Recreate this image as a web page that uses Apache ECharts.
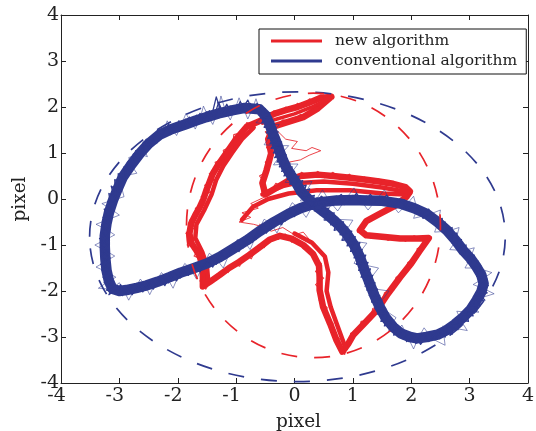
<!DOCTYPE html>
<html><head><meta charset="utf-8">
<script src="https://cdn.jsdelivr.net/npm/echarts@6/dist/echarts.min.js"></script>
<style>html,body{margin:0;padding:0;background:#fff}#c{width:536px;height:431px}</style>
</head><body><div id="c"></div>
<script>
// ---- data ----
const xTicks = [-4, -3, -2, -1, 0, 1, 2, 3, 4];
const yTicks = [-4, -3, -2, -1, 0, 1, 2, 3, 4];
const axisNames = ['pixel', 'pixel'];
const seriesNames = ['new algorithm', 'conventional algorithm'];

// conventional algorithm: centre line of the blue band (figure-eight)
const blueTrace = [
  [-0.60,1.95],[-0.85,1.98],[-1.05,1.93],[-1.30,1.86],[-1.51,1.78],[-1.70,1.70],[-1.85,1.63],
  [-2.10,1.52],[-2.31,1.40],[-2.50,1.20],[-2.65,0.99],[-2.80,0.74],[-2.94,0.48],[-3.03,0.22],
  [-3.11,-0.03],[-3.18,-0.30],[-3.22,-0.53],[-3.25,-0.80],[-3.25,-1.04],[-3.24,-1.30],[-3.22,-1.55],
  [-3.18,-1.78],[-3.12,-1.95],[-3.00,-2.00],[-2.88,-1.98],[-2.70,-1.93],[-2.54,-1.88],[-2.35,-1.80],
  [-2.14,-1.70],[-1.95,-1.60],[-1.74,-1.51],[-1.50,-1.40],[-1.28,-1.26],[-1.05,-1.08],[-0.82,-0.90],
  [-0.60,-0.70],[-0.35,-0.50],[-0.10,-0.32],[0.10,-0.20],[0.38,-0.08],[0.72,-0.03],[1.00,-0.02],
  [1.23,-0.03],[1.50,-0.04],[1.81,-0.10],[2.05,-0.20],[2.26,-0.32],[2.45,-0.50],[2.61,-0.68],
  [2.76,-0.90],[2.89,-1.12],[3.02,-1.30],[3.12,-1.48],[3.20,-1.65],[3.24,-1.84],[3.20,-2.02],
  [3.12,-2.20],[3.02,-2.40],[2.89,-2.57],[2.75,-2.72],[2.61,-2.85],[2.45,-2.95],[2.26,-3.00],
  [2.10,-3.03],[1.98,-3.00],[1.82,-2.92],[1.69,-2.78],[1.56,-2.58],[1.46,-2.35],[1.37,-2.10],
  [1.29,-1.84],[1.20,-1.55],[1.12,-1.26],[1.02,-1.00],[0.89,-0.75],[0.75,-0.55],[0.60,-0.38],
  [0.40,-0.18],[0.26,-0.03],[0.12,0.15],[0.03,0.35],[-0.06,0.52],[-0.14,0.68],[-0.20,0.85],
  [-0.25,1.02],[-0.30,1.20],[-0.37,1.42],[-0.43,1.64],[-0.50,1.82],[-0.60,1.95]
];
// noisy blue passes
const blueNoiseA = [
  [-0.60,2.05],[-0.68,1.88],[-0.76,2.08],[-0.85,1.90],[-0.93,2.12],[-1.02,1.86],[-1.10,2.02],[-1.20,1.80],
  [-1.30,2.10],[-1.38,1.78],[-1.46,1.92],[-1.55,1.70],[-1.62,1.86],[-1.72,1.62],[-1.80,1.78],[-1.90,1.55],
  [-1.98,1.70],[-2.08,1.45],[-2.16,1.62],[-2.28,1.33],[-2.34,1.50],[-2.46,1.13],[-2.54,1.30],[-2.63,0.90],
  [-2.72,1.05],[-2.78,0.66],[-2.86,0.80],[-2.92,0.40],[-3.02,0.55],[-3.00,0.15],[-3.14,0.28],[-3.06,-0.08],
  [-3.20,-0.05],[-3.12,-0.35],[-3.28,-0.40],[-3.16,-0.60],[-3.30,-0.70],[-3.18,-0.88],[-3.32,-1.00],[-3.19,-1.12],
  [-3.31,-1.25],[-3.18,-1.38],[-3.30,-1.55],[-3.15,-1.65],[-3.26,-1.82],[-3.10,-1.88],[-3.18,-2.08],[-3.00,-1.92],
  [-2.95,-2.10],[-2.86,-1.90],[-2.78,-2.08],[-2.68,-1.86],[-2.60,-2.02],[-2.50,-1.80],[-2.42,-1.96],[-2.32,-1.74],
  [-2.22,-1.88],[-2.12,-1.64],[-2.02,-1.78],[-1.92,-1.54],[-1.82,-1.66],[-1.72,-1.44],[-1.62,-1.58],[-1.50,-1.32],
  [-1.40,-1.48],[-1.28,-1.18],[-1.18,-1.30],[-1.05,-1.00],[-0.95,-1.14],[-0.82,-0.82],[-0.72,-0.94],[-0.60,-0.62],
  [-0.48,-0.74],[-0.35,-0.42],[-0.22,-0.56],[-0.10,-0.24],[0.00,-0.38],[0.10,-0.12],[0.24,-0.24],[0.38,0.02],
  [0.55,-0.14],[0.72,0.06],[0.86,-0.12],[1.00,0.08],[1.12,-0.10],[1.23,0.06],[1.36,-0.12],[1.50,0.05],
  [1.65,-0.16],[1.81,0.00],[1.93,-0.22],[2.05,-0.10],[2.16,-0.36],[2.30,-0.22],[2.38,-0.52],[2.53,-0.42],
  [2.55,-0.72],[2.70,-0.62],[2.70,-0.96],[2.86,-0.88],[2.84,-1.20],[3.00,-1.12],[2.96,-1.38],[3.14,-1.34],
  [3.08,-1.56],[3.26,-1.58],[3.16,-1.80],[3.32,-1.88],[3.14,-2.02],[3.26,-2.20],[3.06,-2.22],[3.12,-2.44],
  [2.94,-2.42],[2.98,-2.66],[2.80,-2.62],[2.80,-2.84],[2.62,-2.76],[2.58,-3.00],[2.45,-2.86],[2.30,-3.10],
  [2.20,-2.92],[2.08,-3.14],[1.98,-2.92],[1.86,-3.04],[1.80,-2.82],[1.62,-2.88],[1.66,-2.64],[1.48,-2.66],
  [1.56,-2.38],[1.38,-2.38],[1.46,-2.10],[1.28,-2.10],[1.38,-1.82],[1.20,-1.84],[1.30,-1.52],[1.10,-1.55],
  [1.22,-1.22],[1.02,-1.28],[1.12,-0.95],[0.90,-1.02],[0.98,-0.70],[0.78,-0.78],[0.84,-0.50],[0.62,-0.56],
  [0.68,-0.30],[0.44,-0.34],[0.50,-0.10],[0.28,-0.16],[0.34,0.08],[0.12,0.02],[0.20,0.30],[0.00,0.22],
  [0.08,0.50],[-0.12,0.42],[-0.04,0.70],[-0.22,0.60],[-0.12,0.88],[-0.30,0.80],[-0.18,1.06],[-0.36,1.00],
  [-0.22,1.24],[-0.42,1.20],[-0.28,1.46],[-0.48,1.44],[-0.36,1.68],[-0.56,1.66],[-0.42,1.88],[-0.60,1.85],
  [-0.60,2.05]
];
const blueNoiseB = [
  [-0.55,1.86],[-0.64,2.08],[-0.72,1.92],[-0.80,2.15],[-0.90,1.95],[-0.98,2.05],[-1.08,1.84],[-1.16,2.06],
  [-1.25,1.86],[-1.34,2.22],[-1.42,1.80],[-1.50,1.90],[-1.58,1.66],[-1.68,1.82],[-1.76,1.60],[-1.86,1.74],
  [-1.94,1.50],[-2.04,1.64],[-2.12,1.40],[-2.22,1.56],[-2.30,1.30],[-2.40,1.42],[-2.48,1.10],[-2.58,1.22],
  [-2.64,0.86],[-2.76,0.98],[-2.80,0.60],[-2.92,0.70],[-2.94,0.34],[-3.08,0.42],[-3.06,0.05],[-3.18,0.12],
  [-3.14,-0.22],[-3.26,-0.22],[-3.18,-0.48],[-3.30,-0.56],[-3.18,-0.76],[-3.34,-0.86],[-3.20,-1.00],[-3.30,-1.14],
  [-3.16,-1.28],[-3.32,-1.42],[-3.16,-1.52],[-3.28,-1.70],[-3.12,-1.78],[-3.22,-1.98],[-3.05,-2.04],[-2.98,-1.86],
  [-2.90,-2.06],[-2.82,-1.88],[-2.72,-2.02],[-2.64,-1.82],[-2.54,-1.98],[-2.46,-1.76],[-2.36,-1.90],[-2.26,-1.70],
  [-2.16,-1.82],[-2.06,-1.60],[-1.96,-1.72],[-1.86,-1.48],[-1.76,-1.60],[-1.66,-1.40],[-1.56,-1.52],[-1.44,-1.26],
  [-1.34,-1.42],[-1.22,-1.12],[-1.12,-1.24],[-1.00,-0.94],[-0.88,-1.06],[-0.76,-0.76],[-0.66,-0.88],[-0.54,-0.56],
  [-0.42,-0.68],[-0.28,-0.38],[-0.16,-0.48],[-0.04,-0.18],[0.06,-0.32],[0.18,-0.06],[0.30,-0.20],[0.46,0.06],
  [0.62,-0.10],[0.80,0.10],[0.92,-0.10],[1.06,0.12],[1.18,-0.08],[1.30,0.10],[1.42,-0.10],[1.58,0.08],
  [1.72,-0.14],[1.88,-0.02],[1.98,-0.24],[2.12,-0.14],[2.20,-0.42],[2.36,-0.30],[2.44,-0.58],[2.58,-0.50],
  [2.62,-0.82],[2.78,-0.74],[2.78,-1.06],[2.94,-1.00],[2.90,-1.26],[3.08,-1.22],[3.02,-1.46],[3.20,-1.46],
  [3.12,-1.68],[3.30,-1.74],[3.16,-1.92],[3.30,-2.04],[3.10,-2.12],[3.18,-2.32],[3.00,-2.32],[3.06,-2.54],
  [2.86,-2.50],[2.88,-2.74],[2.70,-2.70],[2.70,-2.94],[2.52,-2.82],[2.40,-3.06],[2.32,-2.90],[2.16,-3.16],
  [2.06,-2.94],[1.92,-3.10],[1.86,-2.86],[1.70,-2.96],[1.72,-2.70],[1.54,-2.76],[1.60,-2.48],[1.42,-2.50],
  [1.50,-2.22],[1.32,-2.24],[1.42,-1.96],[1.24,-1.98],[1.34,-1.66],[1.14,-1.70],[1.26,-1.38],[1.06,-1.42],
  [1.16,-1.10],[0.96,-1.14],[1.04,-0.82],[0.82,-0.90],[0.90,-0.60],[0.68,-0.68],[0.74,-0.40],[0.52,-0.46],
  [0.58,-0.20],[0.34,-0.26],[0.40,-0.02],[0.18,-0.06],[0.26,0.22],[0.04,0.12],[0.14,0.40],[-0.08,0.32],
  [0.00,0.60],[-0.18,0.50],[-0.08,0.78],[-0.26,0.70],[-0.14,0.96],[-0.34,0.90],[-0.20,1.14],[-0.40,1.10],
  [-0.26,1.34],[-0.46,1.32],[-0.32,1.56],[-0.52,1.56],[-0.40,1.78],[-0.58,1.76],[-0.50,1.96],[-0.55,1.86]
];
// the long spikes sticking out of the blue band
const blueSpikes = [
  [-0.60,1.95],[-0.66,2.18],[-0.72,1.96],[-0.80,1.74],[-0.88,1.98],[-0.95,2.20],[-1.02,1.95],[-1.10,1.72],
  [-1.18,1.90],[-1.26,2.24],[-1.32,1.88],[-1.40,1.62],[-1.48,1.80],[-1.56,2.02],[-1.62,1.74],[-1.70,1.52],
  [-1.78,1.68],[-1.86,1.86],[-1.94,1.60],[-2.02,1.38],[-2.10,1.52],[-2.18,1.70],[-2.26,1.42],[-2.36,1.20],
  [-2.44,1.30],[-2.60,1.24],[-2.56,1.04],[-2.52,0.92],[-2.66,0.98],[-2.84,0.90],[-2.78,0.70],[-2.70,0.56],
  [-2.86,0.52],[-3.04,0.44],[-2.96,0.24],
  [-2.92,0.05],[-3.10,-0.02],[-3.30,-0.10],[-3.14,-0.22],[-3.00,-0.35],[-3.20,-0.45],[-3.40,-0.55],[-3.22,-0.66],
  [-3.08,-0.78],[-3.26,-0.90],[-3.42,-1.00],[-3.24,-1.12],[-3.08,-1.24],[-3.24,-1.36],[-3.40,-1.48],[-3.22,-1.58],
  [-3.06,-1.70],[-3.20,-1.80],[-3.36,-1.94],[-3.14,-1.96],
  [-3.00,-1.82],[-2.92,-2.00],[-2.84,-2.20],[-2.74,-1.96],[-2.64,-1.74],[-2.56,-1.88],[-2.48,-2.08],[-2.38,-1.82],
  [-2.28,-1.60],[-2.18,-1.72],[-2.08,-1.94],[-1.98,-1.64],[-1.88,-1.40],[-1.78,-1.52],[-1.68,-1.74],[-1.56,-1.44],
  [-1.46,-1.18],[-1.34,-1.30],[-1.22,-1.50],[-1.10,-1.14],[-0.98,-0.88],[-0.86,-0.92],[-0.76,-1.10],[-0.64,-0.74],
  [-0.52,-0.44],[-0.40,-0.54],[-0.30,-0.74],[-0.16,-0.36],[-0.04,-0.08],[0.08,-0.20],[0.20,-0.40],[0.34,-0.08],
  [0.48,0.20],[0.60,-0.05],[0.74,-0.26],[0.88,0.00],[1.02,0.24],[1.14,-0.04],[1.26,-0.24],[1.40,-0.02],
  [1.54,0.20],[1.66,-0.10],[1.78,-0.30],[1.92,-0.12],[2.04,0.06],
  [2.10,-0.22],[2.04,-0.42],[2.30,-0.34],[2.50,-0.24],[2.46,-0.52],[2.40,-0.72],[2.62,-0.70],[2.82,-0.62],
  [2.76,-0.92],[2.66,-1.10],[2.90,-1.12],[3.08,-1.06],[3.00,-1.32],[2.92,-1.50],[3.14,-1.50],
  [3.38,-1.60],[3.22,-1.74],[3.06,-1.86],[3.26,-1.96],[3.42,-2.06],[3.16,-2.16],
  [3.00,-2.26],[3.16,-2.46],[2.96,-2.46],[2.78,-2.44],[2.86,-2.66],[2.96,-2.86],[2.70,-2.80],[2.54,-2.76],
  [2.56,-2.98],[2.58,-3.18],[2.36,-3.04],
  [2.22,-2.80],[2.12,-3.02],[2.04,-3.26],[1.94,-3.00],[1.84,-2.74],
  [1.72,-2.92],[1.62,-2.80],[1.74,-2.58],[1.60,-2.46],[1.40,-2.40],[1.50,-2.20],[1.62,-2.00],[1.40,-1.96],
  [1.20,-1.90],[1.32,-1.70],[1.44,-1.50],[1.22,-1.44],[1.02,-1.40],[1.12,-1.16],[1.24,-0.96],[1.02,-0.92],
  [0.80,-0.90],[0.90,-0.66],[1.00,-0.46],[0.72,-0.44],[0.50,-0.46],[0.58,-0.24],[0.66,-0.02],[0.34,-0.06],
  [0.10,-0.04],[0.20,0.16],[0.30,0.38],[0.06,0.36],[-0.16,0.36],[-0.06,0.56],[0.06,0.76],[-0.16,0.76],
  [-0.36,0.74],[-0.24,0.96],[-0.10,1.16],[-0.32,1.16],[-0.52,1.18],[-0.40,1.40],[-0.26,1.62],[-0.46,1.62],
  [-0.66,1.66],[-0.52,1.84],[-0.60,1.95]
];

// new algorithm: centre line of the red band
const redTrace = [
  [0.63,2.22],[0.45,2.20],[0.26,2.10],[0.05,2.00],[-0.15,1.93],[-0.35,1.85],[-0.55,1.72],
  [-0.82,1.57],[-1.00,1.30],[-1.17,0.99],[-1.30,0.76],[-1.40,0.55],[-1.46,0.35],[-1.51,0.19],
  [-1.56,0.00],[-1.62,-0.17],[-1.70,-0.35],[-1.77,-0.53],[-1.80,-0.75],[-1.77,-0.95],[-1.68,-1.12],
  [-1.62,-1.26],[-1.58,-1.45],[-1.57,-1.65],[-1.57,-1.90],[-1.45,-1.80],[-1.28,-1.65],[-1.12,-1.50],
  [-0.95,-1.37],[-0.78,-1.22],[-0.60,-1.05],[-0.42,-0.88],[-0.25,-0.80],[-0.05,-0.86],[0.15,-1.00],
  [0.32,-1.20],[0.42,-1.45],[0.43,-1.70],[0.43,-1.98],[0.49,-2.35],[0.61,-2.71],[0.72,-3.07],
  [0.82,-3.32],[0.92,-3.15],[1.01,-2.95],[1.20,-2.70],[1.41,-2.42],[1.60,-2.06],[1.81,-1.70],
  [2.00,-1.40],[2.15,-1.12],[2.30,-0.85],[2.10,-0.86],[1.81,-0.86],[1.50,-0.82],[1.23,-0.79],
  [1.12,-0.68],[1.23,-0.48],[1.45,-0.33],[1.72,-0.15],[1.92,0.05],[1.98,0.16],[1.90,0.26],
  [1.69,0.33],[1.45,0.38],[1.23,0.42],[0.95,0.46],[0.66,0.50],[0.40,0.53],[0.10,0.50],
  [-0.10,0.40],[-0.30,0.25],[-0.50,0.10],[-0.55,0.35],[-0.48,0.62],[-0.40,0.99],[-0.45,1.30],
  [-0.35,1.58],[-0.15,1.66],[0.15,1.78],[0.40,1.97],[0.63,2.22]
];
// a noisy red pass
const redNoise = [
  [0.63,2.22],[0.55,2.15],[0.45,2.26],[0.36,2.10],[0.26,2.18],[0.15,2.02],[0.05,2.08],[-0.05,1.94],
  [-0.15,2.00],[-0.25,1.86],[-0.35,1.92],[-0.45,1.76],[-0.55,1.82],[-0.68,1.62],[-0.82,1.66],
  [-0.88,1.45],[-1.04,1.40],[-1.06,1.15],[-1.22,1.06],[-1.20,0.88],[-1.36,0.80],[-1.32,0.62],[-1.46,0.55],
  [-1.38,0.40],[-1.54,0.30],[-1.44,0.15],[-1.60,0.05],[-1.52,-0.10],[-1.70,-0.20],[-1.62,-0.36],[-1.80,-0.46],
  [-1.70,-0.62],[-1.86,-0.75],[-1.72,-0.86],[-1.84,-1.00],[-1.64,-1.08],[-1.72,-1.24],[-1.54,-1.34],[-1.64,-1.50],
  [-1.50,-1.60],[-1.62,-1.78],[-1.52,-1.96],
  [-1.42,-1.74],[-1.34,-1.76],[-1.24,-1.56],[-1.14,-1.60],[-1.04,-1.40],[-0.94,-1.46],[-0.84,-1.22],[-0.74,-1.30],
  [-0.62,-1.00],[-0.52,-1.06],[-0.40,-0.82],[-0.28,-0.88],[-0.16,-0.76],[-0.05,-0.94],[0.06,-0.88],[0.15,-1.08],
  [0.26,-1.10],[0.34,-1.30],
  [0.46,-1.40],[0.36,-1.58],[0.50,-1.72],[0.36,-1.86],[0.48,-2.00],[0.42,-2.20],[0.56,-2.36],[0.52,-2.55],
  [0.66,-2.70],[0.62,-2.90],[0.78,-3.05],[0.74,-3.22],[0.86,-3.38],[0.90,-3.18],[0.98,-3.10],[0.96,-2.92],[1.10,-2.88],
  [1.14,-2.66],[1.30,-2.64],[1.34,-2.38],[1.50,-2.30],[1.54,-2.04],[1.70,-1.98],[1.74,-1.70],[1.90,-1.62],
  [1.94,-1.38],[2.10,-1.26],[2.10,-1.08],[2.24,-0.98],[2.34,-0.82],
  [2.20,-0.90],[2.05,-0.80],[1.90,-0.92],[1.76,-0.80],[1.60,-0.90],[1.46,-0.78],[1.32,-0.86],[1.20,-0.74],[1.08,-0.72],
  [1.20,-0.52],[1.30,-0.44],[1.42,-0.38],[1.54,-0.26],[1.66,-0.20],[1.78,-0.08],[1.88,0.00],[2.00,0.10],[1.96,0.22],
  [1.80,0.30],[1.68,0.38],[1.56,0.30],[1.44,0.44],[1.32,0.36],[1.20,0.48],[1.06,0.40],[0.94,0.54],[0.80,0.44],
  [0.66,0.58],[0.52,0.46],[0.40,0.60],[0.26,0.48],[0.12,0.58],[0.00,0.42],[-0.10,0.48],[-0.22,0.28],[-0.32,0.34],
  [-0.44,0.10],[-0.56,0.16],
  [-0.50,0.35],[-0.60,0.50],[-0.44,0.62],[-0.50,0.80],[-0.36,0.98],[-0.48,1.12],[-0.40,1.30],[-0.50,1.46],
  [-0.32,1.56],[-0.20,1.72],[-0.05,1.68],[0.10,1.84],[0.22,1.82],[0.34,2.00],[0.46,1.98],[0.63,2.22]
];
// further red passes that widen the arms
const redMidLower = [
  [-0.90,-0.45],[-0.71,-0.17],[-0.45,0.00],[-0.10,0.12],[0.38,0.19],[0.95,0.19],[1.52,0.12],[1.90,0.10]
];
const redMidCentre = [
  [-0.55,0.10],[-0.20,0.28],[0.00,0.34],[0.50,0.38],[1.00,0.33],[1.50,0.25],[1.95,0.15]
];
const redTopCentre = [
  [0.63,2.22],[0.30,2.00],[0.00,1.85],[-0.30,1.74],[-0.55,1.65]
];
const redLowerArmRight = [
  [0.00,-0.75],[0.30,-0.95],[0.52,-1.25],[0.58,-1.60],[0.55,-2.00],[0.62,-2.35],[0.72,-2.70],[0.82,-3.05],[0.88,-3.25]
];
const redLeftArmInner = [
  [-0.70,1.55],[-0.90,1.30],[-1.07,1.00],[-1.22,0.72],[-1.34,0.42],[-1.42,0.10],[-1.55,-0.25],[-1.68,-0.55],
  [-1.70,-0.85],[-1.58,-1.15],[-1.50,-1.45],[-1.48,-1.75]
];
// thin red excursions
const redExcursion1 = [
  [-0.35,1.55],[-0.15,1.30],[0.05,1.25],[-0.05,1.10],[0.20,1.05],[0.30,1.12],[0.45,1.05],[0.25,0.95],[0.10,0.85],[-0.10,0.80]
];
const redExcursion2 = [
  [-0.50,0.05],[-0.75,-0.10],[-0.62,-0.20],[-0.90,-0.30],[-0.75,-0.40],[-0.95,-0.50],[-0.70,-0.55],[-0.50,-0.62]
];
const redExcursion3 = [
  [-0.60,-0.55],[-0.40,-0.70],[-0.20,-0.62],[0.00,-0.78],[0.15,-0.72],[0.30,-0.95]
];

// fitted dashed ellipses: [centre x, centre y, radius x, radius y]
const blueEllipse = [[0.05, -0.82, 3.56, 3.15]];
const redEllipse = [[0.325, -0.575, 2.175, 2.875]];

// ---- chart ----
const BLUE = '#2f3a8f', RED = '#e8232a';
const FONT = 'DejaVu Serif';
const chart = echarts.init(document.getElementById('c'), null, {renderer: 'canvas'});

function ellipseSeries(name, data, color) {
  return {
    type: 'custom', name: name, data: data, z: 6, silent: true,
    encode: {x: 0, y: 1},
    renderItem: function (params, api) {
      const c = api.coord([api.value(0), api.value(1)]);
      const s = api.size([api.value(2), api.value(3)]);
      return {
        type: 'ellipse',
        shape: {cx: c[0], cy: c[1], rx: s[0], ry: s[1]},
        style: {fill: null, stroke: color, lineWidth: 1.7, lineDash: [16, 17]}
      };
    }
  };
}
function band(name, data, color, w, z, op) {
  return {
    type: 'line', name: name, data: data, symbol: 'none', z: z, silent: true,
    lineStyle: {color: color, width: w, join: 'round', cap: 'round', opacity: op == null ? 1 : op},
    itemStyle: {color: color}
  };
}
const labelRichX = {
  n: {fontFamily: FONT, fontSize: 19, color: '#222', padding: [0, 9, 0, 0]},
  p: {fontFamily: FONT, fontSize: 19, color: '#222'}
};
const axisCommon = {
  type: 'value', splitLine: {show: false},
  axisLine: {show: true, onZero: false, lineStyle: {color: '#222', width: 1}},
  axisTick: {show: true, inside: true, length: 5, lineStyle: {color: '#222'}}
};
const xMin = xTicks[0], xMax = xTicks[xTicks.length - 1], xInt = xTicks[1] - xTicks[0];
const yMin = yTicks[0], yMax = yTicks[yTicks.length - 1], yInt = yTicks[1] - yTicks[0];

chart.setOption({
  animation: false,
  backgroundColor: '#fff',
  grid: {left: 61, right: 8, top: 15, bottom: 48, containLabel: false, outerBoundsMode: 'none'},
  legend: {
    data: seriesNames, orient: 'vertical', left: 259, top: 29, z: 10,
    selectedMode: false, icon: 'rect', itemWidth: 51, itemHeight: 3, itemGap: 4,
    padding: [4, 9, 5, 12], borderColor: '#111', borderWidth: 1, backgroundColor: '#fff',
    textStyle: {fontFamily: FONT, fontSize: 15.5, lineHeight: 14, color: '#222', padding: [0, 0, 0, 8]}
  },
  xAxis: [
    Object.assign({}, axisCommon, {
      position: 'bottom', min: xMin, max: xMax, interval: xInt,
      name: axisNames[0], nameLocation: 'middle', nameGap: 30,
      nameTextStyle: {fontFamily: FONT, fontSize: 18.5, color: '#222', padding: [0, 0, 0, 8]},
      axisLabel: {margin: 4, formatter: v => (v < 0 ? '{n|' + v + '}' : '{p|' + v + '}'), rich: labelRichX}
    }),
    Object.assign({}, axisCommon, {
      position: 'top', min: xMin, max: xMax, interval: xInt, axisLabel: {show: false}
    })
  ],
  yAxis: [
    Object.assign({}, axisCommon, {
      position: 'left', min: yMin, max: yMax, interval: yInt,
      name: axisNames[1], nameLocation: 'middle', nameGap: 20, nameRotate: 90,
      nameTextStyle: {fontFamily: FONT, fontSize: 18.5, color: '#222'},
      axisLabel: {margin: 2, fontFamily: FONT, fontSize: 19, color: '#222'}
    }),
    Object.assign({}, axisCommon, {
      position: 'right', min: yMin, max: yMax, interval: yInt, axisLabel: {show: false}
    })
  ],
  series: [
    band(seriesNames[0], redTrace, RED, 6.5, 2),
    band('red-noise', redNoise, RED, 1.1, 2, 0.9),
    band('red-mid-lower', redMidLower, RED, 4.5, 2),
    band('red-mid-centre', redMidCentre, RED, 4.5, 2),
    band('red-top-centre', redTopCentre, RED, 3.5, 2),
    band('red-lower-arm', redLowerArmRight, RED, 4.5, 2),
    band('red-left-arm', redLeftArmInner, RED, 4.5, 2),
    band('red-exc1', redExcursion1, RED, 1, 2, 0.85),
    band('red-exc2', redExcursion2, RED, 1, 2, 0.85),
    band('red-exc3', redExcursion3, RED, 1, 2, 0.85),
    band(seriesNames[1], blueTrace, BLUE, 10.5, 3),
    band('blue-noise-a', blueNoiseA, BLUE, 1.3, 3),
    band('blue-noise-b', blueNoiseB, BLUE, 1.3, 3),
    band('blue-spikes', blueSpikes, BLUE, 0.8, 3, 0.7),
    ellipseSeries('blue-ellipse', blueEllipse, BLUE),
    ellipseSeries('red-ellipse', redEllipse, RED)
  ]
});
</script>
</body></html>
